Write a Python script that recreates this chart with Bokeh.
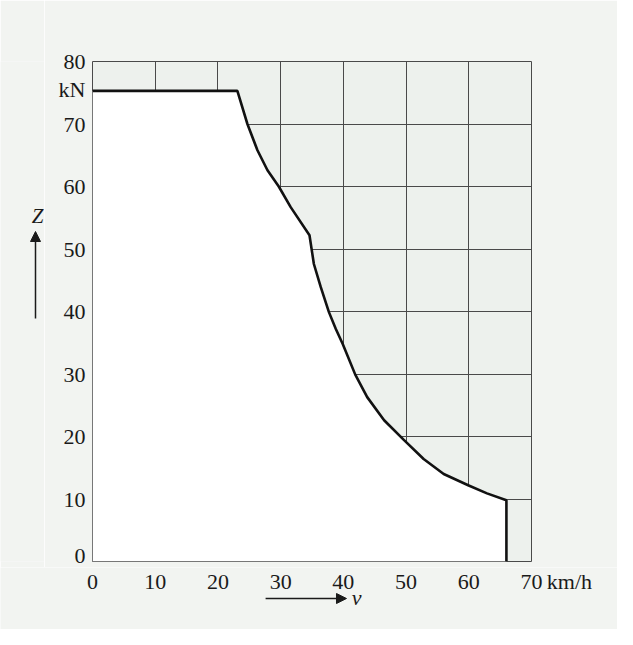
from bokeh.plotting import figure
from bokeh.models import FixedTicker, Arrow, NormalHead, Grid, Range1d
from bokeh.layouts import row, column
from bokeh.core.properties import value
from bokeh.embed import file_html
from bokeh.resources import INLINE

# Tractive force Z (kN) versus speed v (km/h)
v = [0, 23.1, 24.7, 26.3, 27.9, 29.7, 31.6, 34.6, 35.3, 36.4, 37.7, 38.8, 39.9, 41.9,
     43.8, 46.5, 49.6, 52.8, 56.0, 59.9, 62.9, 66.0, 66.0]
Z = [75.3, 75.3, 70, 65.8, 62.6, 60, 56.7, 52.2, 47.6, 43.9, 39.9, 37.2, 34.8, 29.9,
     26.3, 22.6, 19.5, 16.4, 14.0, 12.2, 10.9, 9.8, 0]

x_ticks = [0, 10, 20, 30, 40, 50, 60, 70]
y_ticks = [0, 10, 20, 30, 40, 50, 60, 70, 80]
x_unit = "km/h"
y_unit = "kN"
x_symbol = "v"
y_symbol = "Z"

FONT = "Liberation Serif"
BG = "#f2f4f1"
INK = "#1a1a1a"
GRID = "#4a4a4a"
W, H = 617, 629
LEFT_W = 44
MAIN_H = 567
BORDER_L, BORDER_R, BORDER_T = 48, 86, 61
X_MAX = 70
FRAME_X0 = LEFT_W + BORDER_L                  # page x of v = 0
FRAME_W = W - FRAME_X0 - BORDER_R             # frame width in px
FRAME_B = 561                                 # page y of Z = 0


def style_axis(ax, standoff):
    ax.axis_line_color = None
    ax.major_tick_line_color = None
    ax.minor_tick_line_color = None
    ax.major_tick_out = 0
    ax.major_tick_in = 0
    ax.minor_tick_out = 0
    ax.minor_tick_in = 0
    ax.major_label_text_font = FONT
    ax.major_label_text_font_size = "22px"
    ax.major_label_text_color = INK
    ax.major_label_standoff = standoff


# ---------- main chart ----------
p = figure(width=W - LEFT_W, height=MAIN_H, output_backend="svg", toolbar_location=None,
           x_range=(0, X_MAX), y_range=(0, 80), x_axis_location=None, y_axis_location="left",
           min_border_left=BORDER_L, min_border_right=BORDER_R, min_border_top=BORDER_T,
           min_border_bottom=MAIN_H - FRAME_B)
p.border_fill_color = BG
p.background_fill_color = "#edf1ed"
p.outline_line_color = GRID
p.outline_line_width = 1
p.grid.visible = False

# white area under the curve
p.varea(x=v, y1=[0] * len(v), y2=Z, fill_color="white")

for dim, ticks in ((0, x_ticks), (1, y_ticks)):
    p.add_layout(Grid(dimension=dim, ticker=FixedTicker(ticks=ticks), grid_line_color=GRID,
                      grid_line_width=1, level="underlay"), "center")

p.yaxis.ticker = FixedTicker(ticks=y_ticks + [75.5])
p.yaxis.major_label_overrides = {75.5: y_unit}
style_axis(p.yaxis, 7)

p.line(v, Z, line_color="#111111", line_width=2.6)

# ---------- left strip: Z with upward arrow (coordinates: page px, y measured up) ----------
lf = figure(width=LEFT_W, height=MAIN_H, output_backend="svg", toolbar_location=None,
            x_range=(0, LEFT_W), y_range=(H - FRAME_B, H - BORDER_T), x_axis_location=None,
            y_axis_location=None, min_border_left=0, min_border_right=0,
            min_border_top=BORDER_T, min_border_bottom=MAIN_H - FRAME_B)
lf.border_fill_color = BG
lf.background_fill_color = BG
lf.outline_line_color = None
lf.grid.visible = False
lf.add_layout(Arrow(end=NormalHead(size=10, fill_color=INK, line_color=INK),
                    x_start=35, y_start=H - 318, x_end=35, y_end=H - 231,
                    line_color=INK, line_width=1.5))
lf.text(x=[37], y=[H - 215], text=[y_symbol], text_font=value(FONT), text_font_style="italic",
        text_font_size="21px", text_color=INK, text_align="center", text_baseline="middle")

# ---------- bottom strip: x tick labels, v with right arrow ----------
BH = H - MAIN_H
px = X_MAX / FRAME_W                           # data units per px
bf = figure(width=W, height=BH, output_backend="svg", toolbar_location=None,
            x_range=Range1d(-FRAME_X0 * px, (W - FRAME_X0) * px), y_range=(0, BH),
            x_axis_location="below", y_axis_location=None, min_border=0)
bf.border_fill_color = BG
bf.background_fill_color = BG
bf.outline_line_color = None
bf.grid.visible = False
bf.xaxis.ticker = FixedTicker(ticks=x_ticks)
bf.xaxis.fixed_location = BH
pad = "\u00a0" * 9
bf.xaxis.major_label_overrides = {70: pad + "70\u2009" + x_unit}
style_axis(bf.xaxis, 1)

bf.add_layout(Arrow(end=NormalHead(size=10, fill_color=INK, line_color=INK),
                    x_start=27.6, y_start=H - 598, x_end=40.5, y_end=H - 598,
                    line_color=INK, line_width=1.5))
bf.text(x=[42.1], y=[H - 597], text=[x_symbol], text_font=value(FONT), text_font_style="italic",
        text_font_size="22px", text_color=INK, text_align="center", text_baseline="middle")

layout = column(row(lf, p), bf)
open("out.html", "w").write(file_html(layout, INLINE))
